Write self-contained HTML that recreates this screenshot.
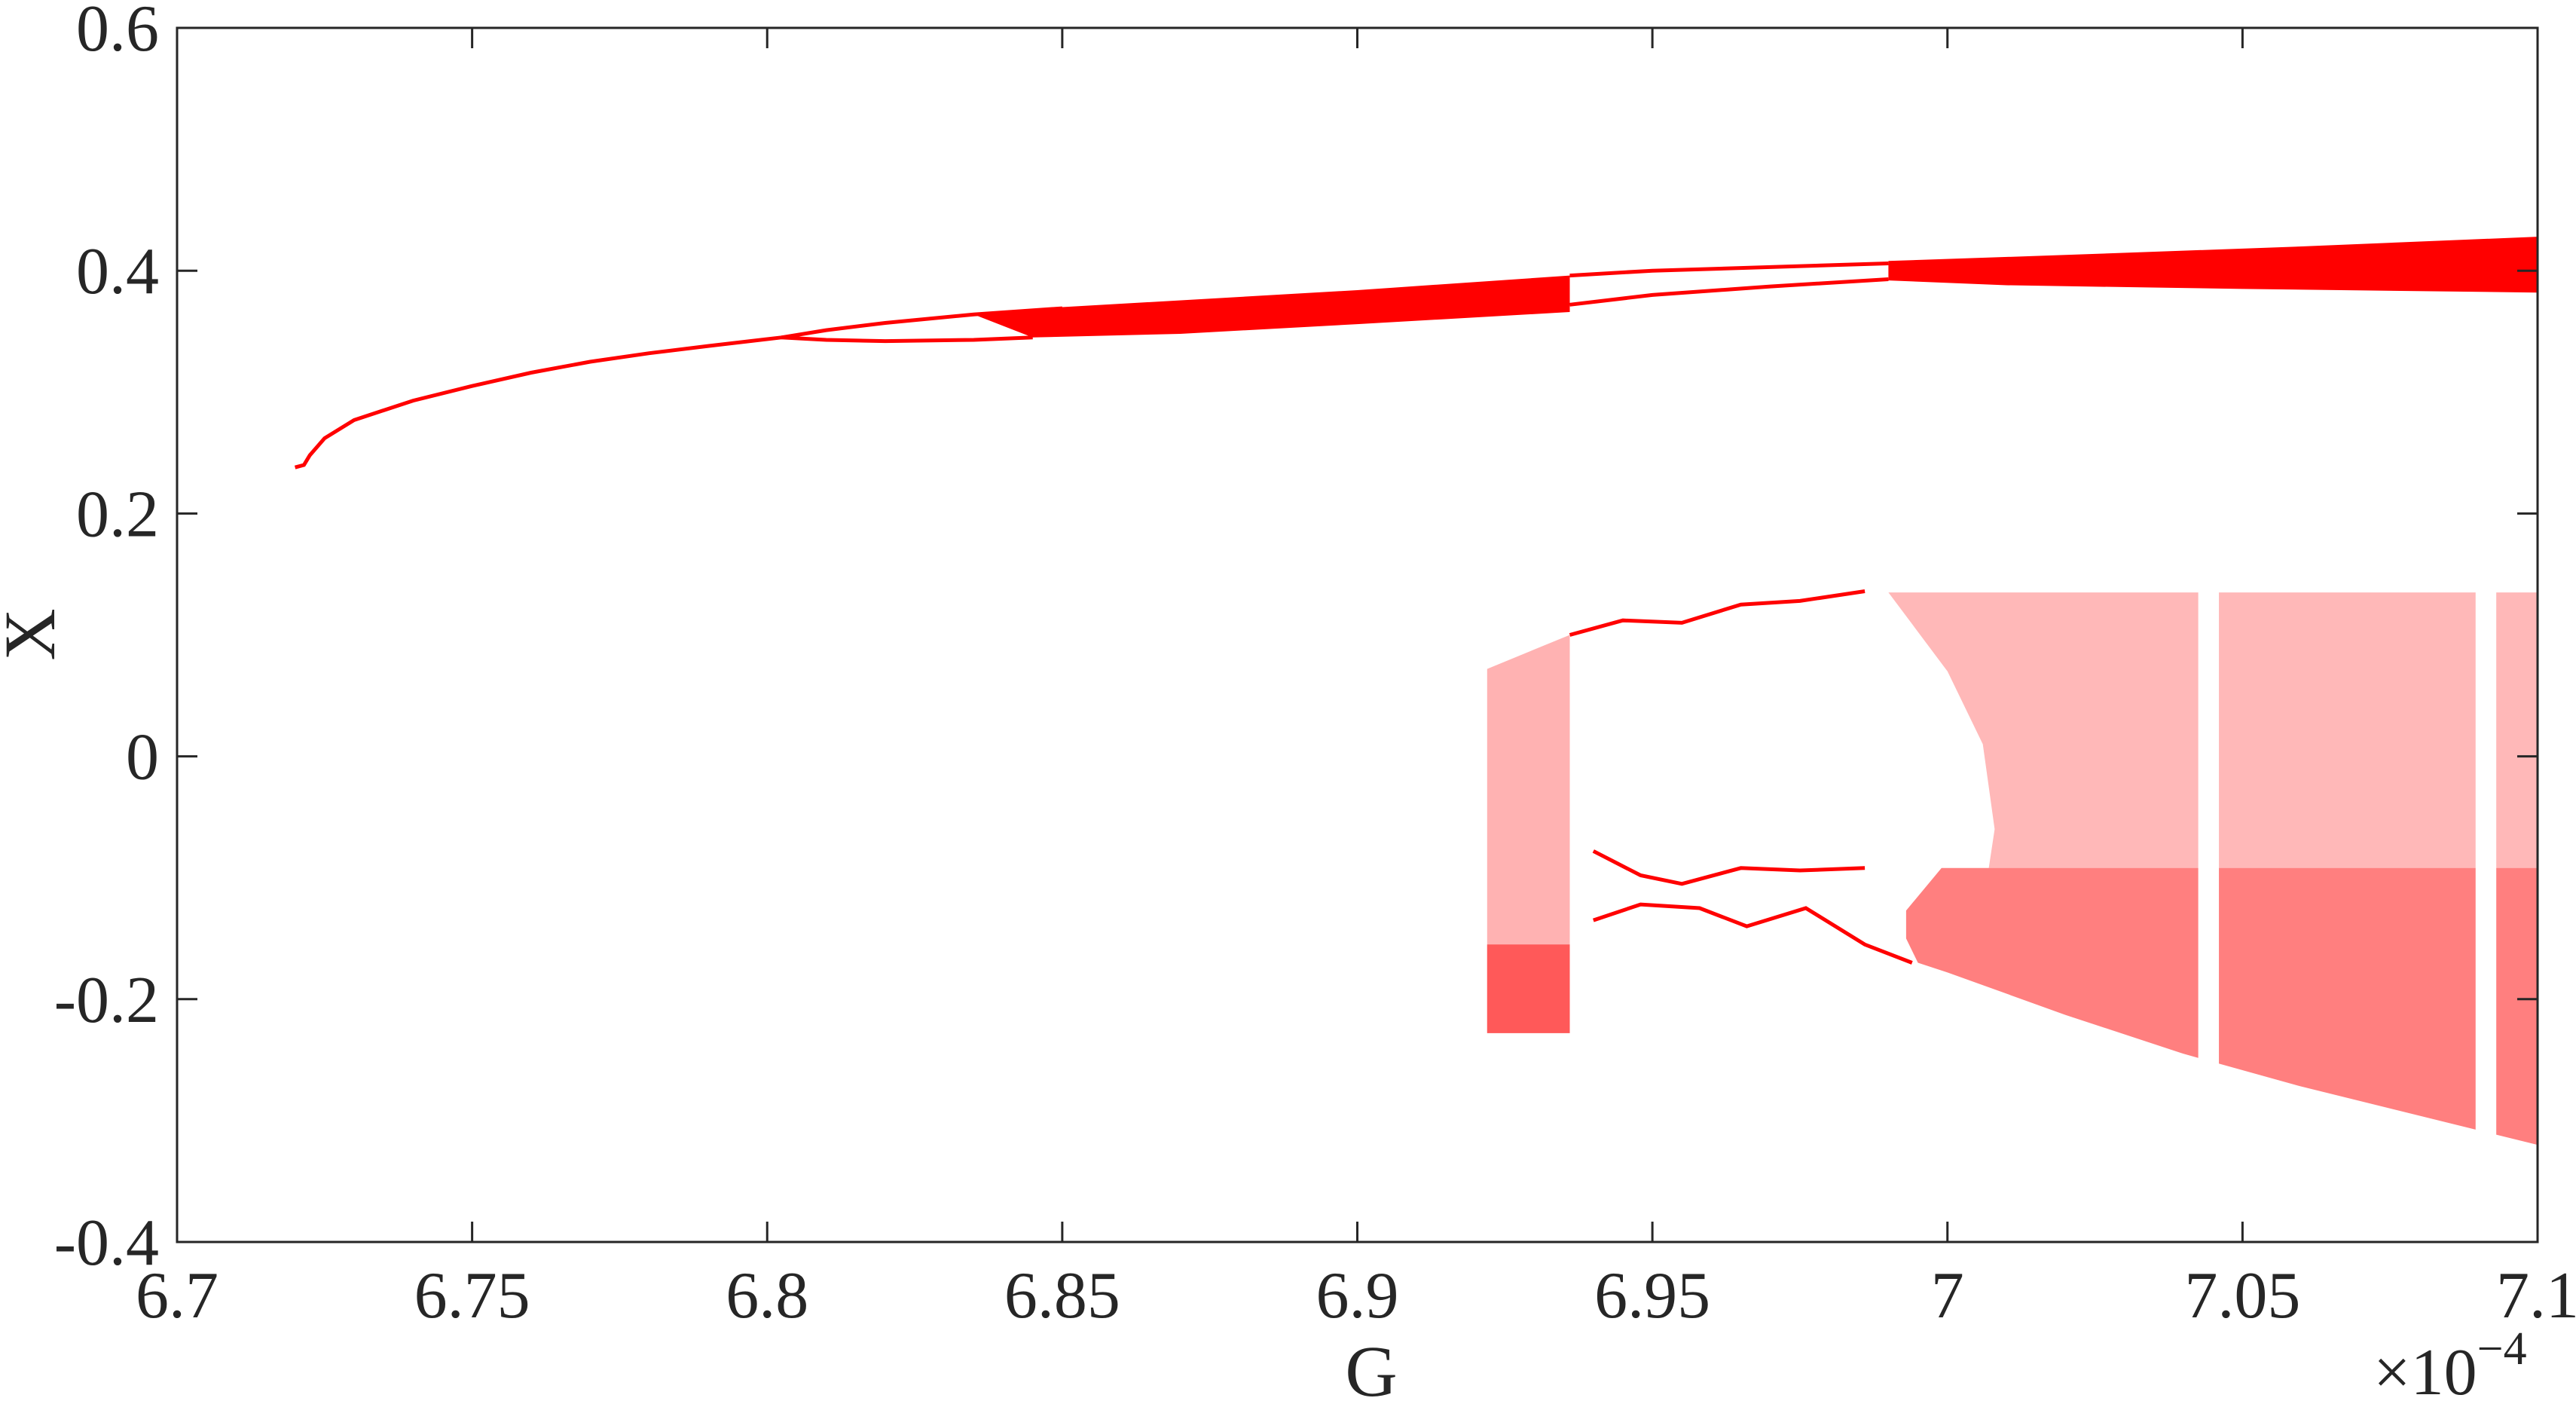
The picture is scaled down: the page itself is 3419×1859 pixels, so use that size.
<!DOCTYPE html>
<html><head><meta charset="utf-8"><style>
html,body{margin:0;padding:0;background:#fff;}
svg{display:block;}
text{font-family:"Liberation Serif",serif;fill:#262626;}
</style></head><body>
<svg id="chart" width="3419" height="1859" viewBox="0 0 3419 1859" xmlns="http://www.w3.org/2000/svg">
<rect x="0" y="0" width="3419" height="1859" fill="#fff"/>
<g id="marks"></g>
<g id="axes"></g>
</svg>
<script>
// axis ticks
const xTicks = [6.7, 6.75, 6.8, 6.85, 6.9, 6.95, 7.0, 7.05, 7.1];
const xTickLabels = ["6.7","6.75","6.8","6.85","6.9","6.95","7","7.05","7.1"];
const yTicks = [-0.4, -0.2, 0, 0.2, 0.4, 0.6];
const yTickLabels = ["-0.4","-0.2","0","0.2","0.4","0.6"];

// period-1 branch [G, X]
const branchMain = [[6.7200,0.238],[6.7215,0.240],[6.7225,0.248],[6.725,0.262],[6.73,0.277],[6.74,0.293],[6.75,0.305],[6.76,0.316],[6.77,0.325],[6.78,0.332],[6.79,0.338],[6.8024,0.345]];
// period-2 loop
const loopUpper = [[6.8024,0.345],[6.81,0.351],[6.82,0.357],[6.835,0.364],[6.85,0.369]];
const loopLower = [[6.8024,0.345],[6.81,0.343],[6.82,0.342],[6.835,0.343],[6.845,0.345]];
// dense upper chaotic band 1
const band1Top = [[6.835,0.364],[6.85,0.370],[6.9,0.384],[6.936,0.396]];
const band1Bot = [[6.845,0.345],[6.87,0.348],[6.9,0.356],[6.936,0.366]];
// period-2 lines after band1
const line2Upper = [[6.936,0.396],[6.95,0.400],[6.97,0.403],[6.99,0.406]];
const line2Lower = [[6.936,0.372],[6.95,0.380],[6.97,0.387],[6.99,0.393]];
// dense upper chaotic band 2
const band2Top = [[6.99,0.408],[7.02,0.413],[7.06,0.420],[7.1,0.428]];
const band2Bot = [[6.99,0.392],[7.01,0.388],[7.05,0.385],[7.1,0.382]];
// lower chaotic block A
const blockATop = [[6.922,0.072],[6.930,0.088],[6.936,0.100]];
const blockABot = [[6.922,-0.228],[6.936,-0.228]];
const blockADenseTop = [[6.922,-0.155],[6.936,-0.155]];
// lower periodic curves
const lowUpperLine = [[6.936,0.100],[6.945,0.112],[6.955,0.110],[6.965,0.125],[6.975,0.128],[6.986,0.136]];
const lowMidLine = [[6.940,-0.078],[6.948,-0.098],[6.955,-0.105],[6.965,-0.092],[6.975,-0.094],[6.986,-0.092]];
const lowLowLine = [[6.940,-0.135],[6.948,-0.122],[6.958,-0.125],[6.966,-0.140],[6.976,-0.125],[6.986,-0.155],[6.994,-0.17]];
// big scatter region
const scatterLeft = [[6.990,0.135],[7.0,0.07],[7.006,0.01],[7.008,-0.06],[7.007,-0.092]];
const scatterDenseLeft = [[6.999,-0.092],[6.993,-0.127],[6.993,-0.15]];
const envelope = [[6.993,-0.15],[6.995,-0.170],[7.0,-0.178],[7.02,-0.213],[7.04,-0.245],[7.06,-0.272],[7.08,-0.296],[7.1,-0.320]];
// white gaps (periodic windows)
const gapStart = [7.0425, 7.0895];
const gapEnd = [7.0460, 7.0930];

const L=235,R=3368,T=37,B=1648;
const xMin=6.7,xMax=7.1,yMin=-0.4,yMax=0.6;
function xs(g){return L+(g-xMin)/(xMax-xMin)*(R-L);}
function ys(v){return B-(v-yMin)/(yMax-yMin)*(B-T);}
const NS="http://www.w3.org/2000/svg";
const marks=document.getElementById('marks');
const axes=document.getElementById('axes');
function mk(tag,attrs,parent){const e=document.createElementNS(NS,tag);for(const k in attrs)e.setAttribute(k,attrs[k]);parent.appendChild(e);return e;}
function pts(a){return a.map(p=>xs(p[0]).toFixed(1)+','+ys(p[1]).toFixed(1)).join(' ');}
function poly(top,bot,op,name){
  const a=top.concat(bot.slice().reverse());
  const e=mk('polygon',{points:pts(a),fill:'#ff0000','fill-opacity':op},marks);
  
  
}
function line(a,name){
  const e=mk('polyline',{points:pts(a),fill:'none',stroke:'#ff0000','stroke-width':5},marks);
  
  
}
line(branchMain,'period1-branch');
line(loopUpper,'period2-upper');
line(loopLower,'period2-lower');
poly(band1Top,band1Bot,1,'chaotic-band-1');
line(line2Upper,'period-line-upper');
line(line2Lower,'period-line-lower');
poly(band2Top,band2Bot,1,'chaotic-band-2');
poly(blockATop,blockABot,0.3,'chaotic-block-a');
poly(blockADenseTop,blockABot,0.5,'chaotic-block-a-dense');
line(lowUpperLine,'lower-periodic-upper');
line(lowMidLine,'lower-periodic-mid');
line(lowLowLine,'lower-periodic-low');
(function(){
  const a=scatterLeft.concat([[7.1,-0.092],[7.1,0.135]]);
  const e=mk('polygon',{points:pts(a),fill:'#ff0000','fill-opacity':0.28},marks);
  
  
  const b=[[7.1,-0.092]].concat(scatterDenseLeft).concat(envelope);
  const f=mk('polygon',{points:pts(b),fill:'#ff0000','fill-opacity':0.5},marks);
  
  
})();
for(let i=0;i<gapStart.length;i++){
  const r=mk('rect',{x:xs(gapStart[i]),y:ys(0.14),width:xs(gapEnd[i])-xs(gapStart[i]),height:ys(-0.33)-ys(0.14),fill:'#fff'},marks);
  
  
}
const box=mk('rect',{x:L,y:T,width:R-L,height:B-T,fill:'none',stroke:'#262626','stroke-width':3},axes);


xTicks.forEach((v,i)=>{
  const x=xs(v);
  const t=mk('path',{d:`M${x},${B}v-27M${x},${T}v27`,stroke:'#262626','stroke-width':3},axes);
  
  
  const lb=mk('text',{x:x,y:1748,'text-anchor':'middle','font-size':88},axes);
  lb.textContent=xTickLabels[i];
  
  
});
yTicks.forEach((v,i)=>{
  const y=ys(v);
  const t=mk('path',{d:`M${L},${y}h27M${R},${y}h-27`,stroke:'#262626','stroke-width':3},axes);
  
  
  const lb=mk('text',{x:211,y:y+30,'text-anchor':'end','font-size':88},axes);
  lb.textContent=yTickLabels[i];
  
  
});
</script>
<svg style="position:absolute;left:0;top:0" width="3419" height="1859">
<text x="1820" y="1852" text-anchor="middle" font-size="96">G</text>
<text transform="translate(72,842) rotate(-90)" text-anchor="middle" font-size="96">X</text>
<text x="3150" y="1850" font-size="88">×10<tspan font-size="62" dy="-40">−4</tspan></text>
</svg>
</body></html>
